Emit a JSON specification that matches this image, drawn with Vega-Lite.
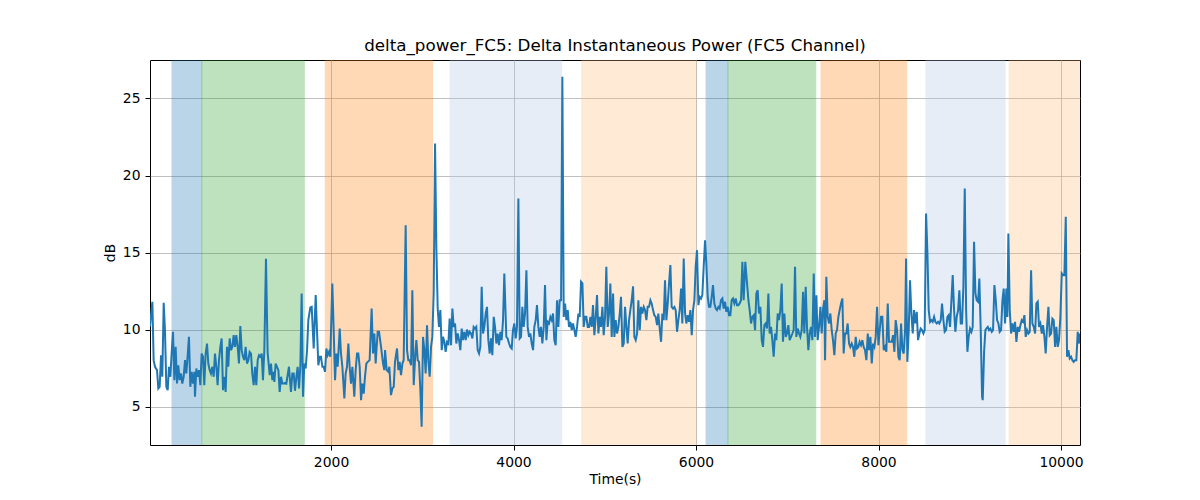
{
"$schema": "https://vega.github.io/schema/vega-lite/v6.json",
"width": 930, "height": 385,
"autosize": {"type": "none"},
"padding": {"left": 150, "top": 60, "right": 120, "bottom": 55},
"background": "white",
"config": {
  "font": "DejaVu Sans",
  "view": {"stroke": "black", "strokeWidth": 1},
  "axis": {"domain": false, "tickColor": "black", "tickSize": 5, "labelPadding": 5, "labelFontSize": 13.9, "labelColor": "black", "titleFontSize": 13.9, "titleFontWeight": "normal", "titleColor": "black", "grid": true, "gridColor": "#b0b0b0", "gridWidth": 0.8}
},
"title": {"text": "delta_power_FC5: Delta Instantaneous Power (FC5 Channel)", "fontSize": 16.7, "fontWeight": "normal", "color": "black", "offset": 8, "baseline": "alphabetic", "dy": 16},
"datasets": {
  "spans": [
    {"start": 257, "end": 584, "stage": "s1"},
    {"start": 584, "end": 1707, "stage": "s2"},
    {"start": 1937, "end": 3112, "stage": "s3"},
    {"start": 3304, "end": 4528, "stage": "s4"},
    {"start": 4747, "end": 6000, "stage": "s5"},
    {"start": 6110, "end": 6350, "stage": "s1"},
    {"start": 6350, "end": 7312, "stage": "s2"},
    {"start": 7370, "end": 8309, "stage": "s3"},
    {"start": 8520, "end": 9387, "stage": "s4"},
    {"start": 9431, "end": 10208, "stage": "s5"}
  ],
  "series": [
{"t":16,"v":10.2},{"t":42,"v":11.8},{"t":56,"v":8.01},{"t":71,"v":7.58},{"t":93,"v":7.36},{"t":107,"v":6.17},{"t":122,"v":6.28},{"t":137,"v":8.33},{"t":151,"v":6.93},{"t":166,"v":11.73},{"t":180,"v":9.96},{"t":195,"v":6.28},{"t":210,"v":6.06},{"t":224,"v":7.58},{"t":239,"v":6.93},{"t":253,"v":8.44},{"t":268,"v":9.85},{"t":283,"v":6.71},{"t":297,"v":8.87},{"t":312,"v":6.49},{"t":326,"v":7.68},{"t":341,"v":6.71},{"t":356,"v":7.14},{"t":370,"v":6.49},{"t":385,"v":6.93},{"t":400,"v":8.01},{"t":414,"v":7.14},{"t":429,"v":8.33},{"t":443,"v":9.52},{"t":458,"v":6.28},{"t":473,"v":7.25},{"t":487,"v":6.49},{"t":502,"v":7.25},{"t":509,"v":5.63},{"t":524,"v":7.47},{"t":538,"v":6.93},{"t":553,"v":7.36},{"t":568,"v":6.39},{"t":582,"v":8.44},{"t":597,"v":8.23},{"t":611,"v":6.39},{"t":626,"v":8.44},{"t":641,"v":9.09},{"t":655,"v":7.79},{"t":670,"v":7.36},{"t":684,"v":7.14},{"t":699,"v":7.58},{"t":714,"v":6.93},{"t":728,"v":8.44},{"t":743,"v":7.58},{"t":757,"v":6.39},{"t":772,"v":8.01},{"t":787,"v":8.87},{"t":801,"v":9.42},{"t":816,"v":6.06},{"t":831,"v":6.93},{"t":845,"v":5.95},{"t":860,"v":8.87},{"t":874,"v":7.58},{"t":889,"v":9.42},{"t":904,"v":8.66},{"t":918,"v":8.87},{"t":933,"v":9.63},{"t":947,"v":8.87},{"t":962,"v":9.63},{"t":977,"v":8.87},{"t":991,"v":7.79},{"t":1006,"v":10.22},{"t":1021,"v":8.66},{"t":1035,"v":8.23},{"t":1050,"v":8.01},{"t":1064,"v":8.87},{"t":1079,"v":7.79},{"t":1094,"v":8.01},{"t":1108,"v":8.55},{"t":1123,"v":8.44},{"t":1137,"v":7.14},{"t":1152,"v":6.39},{"t":1167,"v":7.58},{"t":1181,"v":6.39},{"t":1196,"v":8.01},{"t":1210,"v":8.33},{"t":1225,"v":8.23},{"t":1240,"v":8.44},{"t":1254,"v":6.71},{"t":1269,"v":8.66},{"t":1287,"v":14.6},{"t":1305,"v":8.5},
{"t":1328,"v":7.03},{"t":1342,"v":7.79},{"t":1357,"v":6.71},{"t":1371,"v":7.25},{"t":1379,"v":6.6},{"t":1393,"v":7.79},{"t":1408,"v":7.58},{"t":1423,"v":7.36},{"t":1437,"v":5.95},{"t":1452,"v":6.93},{"t":1466,"v":6.49},{"t":1481,"v":6.49},{"t":1496,"v":6.54},{"t":1510,"v":6.49},{"t":1539,"v":7.58},{"t":1547,"v":6.93},{"t":1561,"v":5.95},{"t":1576,"v":7.14},{"t":1591,"v":7.14},{"t":1605,"v":6.02},{"t":1620,"v":6.93},{"t":1634,"v":7.58},{"t":1649,"v":6.17},{"t":1664,"v":7.68},{"t":1678,"v":12.34},{"t":1693,"v":5.63},{"t":1707,"v":7.79},{"t":1722,"v":7.47},{"t":1737,"v":8.66},{"t":1751,"v":10.61},{"t":1773,"v":11.43},{"t":1788,"v":11.47},{"t":1810,"v":8.77},{"t":1832,"v":12.23},{"t":1846,"v":9.96},{"t":1861,"v":7.68},{"t":1876,"v":8.23},{"t":1890,"v":8.23},{"t":1905,"v":7.58},{"t":1919,"v":7.58},{"t":1934,"v":7.25},{"t":1949,"v":8.77},{"t":1963,"v":8.33},{"t":1978,"v":8.55},{"t":1992,"v":8.23},{"t":2014,"v":12.99},{"t":2029,"v":9.96},{"t":2044,"v":6.71},{"t":2058,"v":8.44},{"t":2073,"v":7.58},{"t":2095,"v":10.06},{"t":2109,"v":8.44},{"t":2124,"v":7.58},{"t":2146,"v":5.52},{"t":2160,"v":7.14},{"t":2175,"v":7.58},{"t":2190,"v":9.09},{"t":2204,"v":7.58},{"t":2219,"v":6.49},{"t":2234,"v":7.58},{"t":2255,"v":5.63},{"t":2270,"v":7.36},{"t":2285,"v":8.44},{"t":2299,"v":8.44},{"t":2314,"v":7.58},{"t":2329,"v":5.41},{"t":2343,"v":6.49},{"t":2358,"v":5.84},{"t":2372,"v":6.93},{"t":2387,"v":7.79},{"t":2402,"v":7.9},{"t":2423,"v":8.01},{"t":2445,"v":11.36},{"t":2460,"v":8.44},{"t":2475,"v":9.74},{"t":2489,"v":7.79},{"t":2511,"v":9.85},{"t":2526,"v":9.85},{"t":2548,"v":8.87},{"t":2570,"v":7.79},{"t":2584,"v":7.36},
{"t":2592,"v":8.66},{"t":2610,"v":7.36},{"t":2628,"v":7.25},{"t":2639,"v":7.58},{"t":2657,"v":5.74},{"t":2672,"v":6.17},{"t":2687,"v":6.28},{"t":2701,"v":7.9},{"t":2723,"v":8.77},{"t":2738,"v":7.36},{"t":2752,"v":7.9},{"t":2767,"v":7.03},{"t":2782,"v":7.79},{"t":2796,"v":8.01},{"t":2818,"v":16.77},{"t":2833,"v":8.66},{"t":2847,"v":8.01},{"t":2862,"v":8.01},{"t":2877,"v":7.68},{"t":2891,"v":12.55},{"t":2906,"v":6.39},{"t":2920,"v":8.01},{"t":2935,"v":9.31},{"t":2950,"v":8.01},{"t":2964,"v":7.9},{"t":2979,"v":6.06},{"t":2993,"v":3.68},{"t":3008,"v":9.52},{"t":3023,"v":8.66},{"t":3037,"v":7.14},{"t":3052,"v":10.28},{"t":3066,"v":8.01},{"t":3081,"v":6.93},{"t":3096,"v":8.87},{"t":3110,"v":9.52},{"t":3125,"v":12.34},{"t":3140,"v":22.08},{"t":3154,"v":15.37},{"t":3169,"v":11.36},{"t":3183,"v":10.17},{"t":3198,"v":11.26},{"t":3213,"v":8.66},{"t":3227,"v":9.52},{"t":3242,"v":9.2},{"t":3256,"v":8.55},{"t":3271,"v":9.2},{"t":3286,"v":9.09},{"t":3300,"v":10.71},{"t":3315,"v":8.98},{"t":3330,"v":11.36},{"t":3344,"v":10.17},{"t":3359,"v":10.39},{"t":3373,"v":9.09},{"t":3388,"v":9.74},{"t":3403,"v":9.31},{"t":3417,"v":8.66},{"t":3432,"v":10.06},{"t":3446,"v":9.31},{"t":3461,"v":9.85},{"t":3476,"v":9.31},{"t":3490,"v":10.0},{"t":3505,"v":9.63},{"t":3519,"v":9.85},{"t":3534,"v":9.74},{"t":3549,"v":9.42},{"t":3563,"v":10.17},{"t":3578,"v":10.06},{"t":3592,"v":10.17},{"t":3607,"v":8.66},{"t":3622,"v":8.44},{"t":3636,"v":8.87},{"t":3651,"v":12.77},{"t":3666,"v":9.74},{"t":3680,"v":10.17},{"t":3695,"v":11.04},{"t":3709,"v":11.47},{"t":3724,"v":9.31},{"t":3739,"v":8.44},{"t":3753,"v":9.42},{"t":3768,"v":8.33},{"t":3783,"v":10.82},{"t":3797,"v":10.17},{"t":3812,"v":9.09},{"t":3826,"v":9.74},{"t":3841,"v":8.98},{"t":3856,"v":9.85},{"t":3870,"v":9.31},{"t":3885,"v":10.61},{"t":3899,"v":13.64},
{"t":3921,"v":9.52},{"t":3936,"v":9.42},{"t":3951,"v":9.09},{"t":3965,"v":8.87},{"t":3980,"v":8.77},{"t":3994,"v":9.96},{"t":4009,"v":10.39},{"t":4024,"v":9.42},{"t":4038,"v":10.17},{"t":4053,"v":18.51},{"t":4068,"v":9.42},{"t":4082,"v":9.52},{"t":4097,"v":11.47},{"t":4111,"v":10.17},{"t":4126,"v":11.04},{"t":4141,"v":13.85},{"t":4155,"v":10.17},{"t":4170,"v":9.52},{"t":4184,"v":9.74},{"t":4199,"v":9.09},{"t":4214,"v":8.66},{"t":4228,"v":10.17},{"t":4243,"v":10.61},{"t":4257,"v":11.58},{"t":4272,"v":10.17},{"t":4287,"v":9.52},{"t":4301,"v":10.17},{"t":4316,"v":9.09},{"t":4331,"v":10.17},{"t":4345,"v":12.88},{"t":4360,"v":9.31},{"t":4374,"v":10.5},{"t":4389,"v":10.39},{"t":4404,"v":10.82},{"t":4418,"v":10.61},{"t":4433,"v":11.04},{"t":4447,"v":9.31},{"t":4462,"v":8.98},{"t":4477,"v":11.9},{"t":4491,"v":10.17},{"t":4506,"v":11.9},{"t":4521,"v":11.9},{"t":4535,"v":26.41},{"t":4550,"v":10.82},{"t":4565,"v":11.69},{"t":4579,"v":10.61},{"t":4594,"v":11.26},{"t":4608,"v":10.17},{"t":4623,"v":10.5},{"t":4638,"v":9.96},{"t":4652,"v":10.39},{"t":4667,"v":9.96},{"t":4681,"v":9.52},{"t":4696,"v":10.17},{"t":4711,"v":11.04},{"t":4725,"v":10.82},{"t":4740,"v":13.1},{"t":4755,"v":12.99},{"t":4769,"v":10.17},{"t":4784,"v":10.82},{"t":4798,"v":10.82},{"t":4813,"v":10.17},{"t":4828,"v":10.17},{"t":4842,"v":10.82},{"t":4857,"v":10.17},{"t":4871,"v":11.58},{"t":4886,"v":9.63},{"t":4901,"v":10.82},{"t":4915,"v":12.23},{"t":4930,"v":9.74},{"t":4945,"v":10.82},{"t":4959,"v":10.17},{"t":4974,"v":11.47},{"t":4988,"v":9.63},{"t":5003,"v":10.82},{"t":5017,"v":14.07},{"t":5032,"v":10.17},{"t":5047,"v":11.04},{"t":5061,"v":12.99},{"t":5076,"v":9.52},{"t":5091,"v":12.34},{"t":5105,"v":9.52},{"t":5120,"v":10.61},{"t":5134,"v":9.74},{"t":5149,"v":10.17},{"t":5164,"v":11.04},{"t":5178,"v":12.12},{"t":5193,"v":8.87},{"t":5208,"v":9.09},
{"t":5222,"v":11.47},{"t":5237,"v":10.17},{"t":5251,"v":9.09},{"t":5266,"v":10.61},{"t":5280,"v":11.26},{"t":5295,"v":11.9},{"t":5310,"v":12.81},{"t":5324,"v":9.52},{"t":5339,"v":9.31},{"t":5354,"v":9.74},{"t":5368,"v":11.9},{"t":5383,"v":9.96},{"t":5397,"v":11.47},{"t":5412,"v":11.04},{"t":5427,"v":11.47},{"t":5441,"v":11.26},{"t":5456,"v":10.61},{"t":5470,"v":11.47},{"t":5485,"v":11.47},{"t":5500,"v":11.9},{"t":5514,"v":11.69},{"t":5529,"v":11.26},{"t":5543,"v":10.93},{"t":5558,"v":10.82},{"t":5573,"v":10.28},{"t":5587,"v":11.04},{"t":5602,"v":10.06},{"t":5617,"v":9.2},{"t":5631,"v":11.04},{"t":5646,"v":10.61},{"t":5660,"v":13.2},{"t":5675,"v":10.61},{"t":5690,"v":11.69},{"t":5704,"v":12.99},{"t":5719,"v":14.18},{"t":5733,"v":11.47},{"t":5748,"v":11.36},{"t":5763,"v":11.47},{"t":5777,"v":11.26},{"t":5792,"v":9.85},{"t":5806,"v":10.61},{"t":5821,"v":11.26},{"t":5836,"v":12.66},{"t":5850,"v":10.39},{"t":5865,"v":14.61},{"t":5880,"v":11.04},{"t":5894,"v":10.39},{"t":5909,"v":10.93},{"t":5923,"v":10.5},{"t":5938,"v":11.26},{"t":5953,"v":9.63},{"t":5967,"v":11.26},{"t":5982,"v":11.9},{"t":5996,"v":14.07},{"t":6011,"v":15.15},{"t":6026,"v":11.58},{"t":6040,"v":12.12},{"t":6055,"v":12.01},{"t":6069,"v":12.23},{"t":6084,"v":14.07},{"t":6099,"v":15.8},{"t":6113,"v":14.29},{"t":6128,"v":12.12},{"t":6142,"v":11.47},{"t":6157,"v":11.47},{"t":6172,"v":12.12},{"t":6186,"v":12.88},{"t":6201,"v":11.69},{"t":6216,"v":11.36},{"t":6230,"v":11.26},{"t":6245,"v":11.47},{"t":6259,"v":11.36},{"t":6274,"v":11.9},{"t":6289,"v":12.01},{"t":6303,"v":11.36},{"t":6318,"v":11.8},{"t":6332,"v":11.15},{"t":6347,"v":11.47},{"t":6362,"v":10.93},{"t":6376,"v":10.93},{"t":6391,"v":11.9},{"t":6405,"v":12.01},{"t":6420,"v":11.69},{"t":6435,"v":12.01},{"t":6449,"v":11.58},{"t":6464,"v":11.58},{"t":6478,"v":11.69},{"t":6493,"v":11.9},{"t":6508,"v":14.39},{"t":6522,"v":11.9},{"t":6540,"v":14.39},
{"t":6574,"v":11.9},{"t":6588,"v":11.26},{"t":6603,"v":10.39},{"t":6617,"v":10.82},{"t":6632,"v":10.93},{"t":6647,"v":9.96},{"t":6661,"v":12.34},{"t":6676,"v":12.55},{"t":6690,"v":11.04},{"t":6705,"v":11.47},{"t":6720,"v":9.31},{"t":6734,"v":8.87},{"t":6749,"v":10.28},{"t":6763,"v":10.39},{"t":6778,"v":10.06},{"t":6793,"v":12.34},{"t":6807,"v":9.74},{"t":6822,"v":10.17},{"t":6836,"v":9.31},{"t":6851,"v":8.23},{"t":6866,"v":9.74},{"t":6880,"v":9.31},{"t":6895,"v":11.04},{"t":6909,"v":10.61},{"t":6924,"v":11.26},{"t":6939,"v":12.99},{"t":6953,"v":9.2},{"t":6968,"v":11.04},{"t":6983,"v":9.52},{"t":6997,"v":9.74},{"t":7012,"v":10.28},{"t":7026,"v":9.31},{"t":7041,"v":9.52},{"t":7056,"v":9.74},{"t":7070,"v":9.96},{"t":7085,"v":14.07},{"t":7099,"v":9.52},{"t":7114,"v":10.06},{"t":7129,"v":9.74},{"t":7143,"v":9.52},{"t":7158,"v":9.96},{"t":7173,"v":12.45},{"t":7187,"v":9.74},{"t":7202,"v":12.77},{"t":7216,"v":10.17},{"t":7231,"v":8.66},{"t":7246,"v":9.74},{"t":7260,"v":10.17},{"t":7275,"v":9.31},{"t":7290,"v":13.64},{"t":7304,"v":9.52},{"t":7319,"v":12.23},{"t":7333,"v":9.31},{"t":7348,"v":10.17},{"t":7363,"v":11.47},{"t":7377,"v":9.74},{"t":7392,"v":11.36},{"t":7407,"v":11.9},{"t":7414,"v":8.01},{"t":7428,"v":13.42},{"t":7443,"v":10.82},{"t":7458,"v":10.39},{"t":7472,"v":11.04},{"t":7487,"v":9.96},{"t":7501,"v":9.31},{"t":7516,"v":8.33},{"t":7531,"v":9.74},{"t":7545,"v":9.96},{"t":7560,"v":10.82},{"t":7574,"v":11.26},{"t":7589,"v":11.69},{"t":7604,"v":12.01},{"t":7618,"v":8.44},{"t":7633,"v":9.74},{"t":7647,"v":9.74},{"t":7662,"v":10.39},{"t":7677,"v":9.09},{"t":7691,"v":8.87},{"t":7706,"v":9.09},{"t":7720,"v":8.87},{"t":7735,"v":8.23},{"t":7750,"v":9.52},{"t":7764,"v":8.77},{"t":7779,"v":8.87},{"t":7793,"v":9.2},{"t":7808,"v":8.98},{"t":7823,"v":9.31},{"t":7837,"v":8.87},
{"t":7852,"v":8.66},{"t":7867,"v":8.01},{"t":7882,"v":9.74},{"t":7896,"v":8.66},{"t":7911,"v":9.52},{"t":7926,"v":7.79},{"t":7940,"v":9.09},{"t":7955,"v":8.87},{"t":7969,"v":9.52},{"t":7984,"v":11.47},{"t":7999,"v":8.98},{"t":8013,"v":9.96},{"t":8028,"v":10.82},{"t":8042,"v":10.82},{"t":8057,"v":8.66},{"t":8072,"v":8.87},{"t":8086,"v":8.55},{"t":8101,"v":11.69},{"t":8115,"v":9.2},{"t":8130,"v":9.2},{"t":8145,"v":9.2},{"t":8159,"v":9.63},{"t":8174,"v":8.55},{"t":8188,"v":10.61},{"t":8203,"v":9.96},{"t":8218,"v":8.23},{"t":8232,"v":8.01},{"t":8247,"v":10.39},{"t":8262,"v":8.66},{"t":8276,"v":8.44},{"t":8291,"v":9.96},{"t":8302,"v":14.61},{"t":8316,"v":7.9},{"t":8331,"v":9.96},{"t":8345,"v":13.2},{"t":8360,"v":11.04},{"t":8375,"v":9.74},{"t":8389,"v":11.26},{"t":8404,"v":10.39},{"t":8419,"v":11.15},{"t":8433,"v":9.31},{"t":8448,"v":9.74},{"t":8462,"v":10.06},{"t":8477,"v":9.96},{"t":8492,"v":9.74},{"t":8506,"v":9.96},{"t":8521,"v":17.53},{"t":8536,"v":14.94},{"t":8550,"v":11.26},{"t":8565,"v":10.5},{"t":8579,"v":10.61},{"t":8594,"v":10.5},{"t":8609,"v":10.82},{"t":8623,"v":10.5},{"t":8638,"v":10.39},{"t":8652,"v":10.5},{"t":8667,"v":10.39},{"t":8682,"v":10.61},{"t":8696,"v":11.69},{"t":8711,"v":10.61},{"t":8725,"v":9.85},{"t":8740,"v":9.96},{"t":8755,"v":10.82},{"t":8769,"v":10.93},{"t":8784,"v":10.17},{"t":8799,"v":11.9},{"t":8813,"v":13.53},{"t":8828,"v":11.26},{"t":8842,"v":9.85},{"t":8857,"v":10.82},{"t":8872,"v":11.26},{"t":8886,"v":12.55},{"t":8901,"v":10.39},{"t":8915,"v":10.39},{"t":8930,"v":12.77},{"t":8945,"v":19.16},{"t":8960,"v":11.26},{"t":8974,"v":8.55},{"t":8988,"v":9.52},{"t":9003,"v":10.06},{"t":9018,"v":9.85},{"t":9032,"v":10.17},{"t":9047,"v":15.69},{"t":9062,"v":12.34},{"t":9076,"v":11.9},{"t":9091,"v":11.8},{"t":9105,"v":13.31},{"t":9120,"v":9.96},{"t":9135,"v":5.63},{"t":9142,"v":5.41},{"t":9157,"v":8.55},{"t":9171,"v":9.96},
{"t":9182,"v":10.06},{"t":9197,"v":10.17},{"t":9211,"v":9.96},{"t":9226,"v":10.06},{"t":9241,"v":9.85},{"t":9255,"v":9.96},{"t":9270,"v":12.88},{"t":9285,"v":11.9},{"t":9299,"v":10.61},{"t":9314,"v":10.39},{"t":9328,"v":9.85},{"t":9343,"v":9.96},{"t":9358,"v":11.9},{"t":9372,"v":12.66},{"t":9387,"v":10.39},{"t":9401,"v":12.66},{"t":9412,"v":10.82},{"t":9423,"v":16.23},{"t":9438,"v":11.26},{"t":9453,"v":9.74},{"t":9467,"v":10.39},{"t":9482,"v":9.85},{"t":9496,"v":10.5},{"t":9511,"v":9.2},{"t":9526,"v":10.17},{"t":9540,"v":9.85},{"t":9555,"v":10.28},{"t":9569,"v":10.61},{"t":9584,"v":10.5},{"t":9599,"v":10.93},{"t":9613,"v":9.52},{"t":9628,"v":9.96},{"t":9643,"v":9.74},{"t":9657,"v":9.85},{"t":9672,"v":13.85},{"t":9686,"v":10.39},{"t":9701,"v":10.17},{"t":9716,"v":9.74},{"t":9730,"v":11.69},{"t":9745,"v":11.8},{"t":9759,"v":10.17},{"t":9774,"v":10.39},{"t":9789,"v":9.74},{"t":9803,"v":10.28},{"t":9818,"v":9.52},{"t":9832,"v":8.44},{"t":9847,"v":10.17},{"t":9862,"v":11.47},{"t":9876,"v":9.63},{"t":9891,"v":9.74},{"t":9905,"v":10.71},{"t":9920,"v":10.61},{"t":9935,"v":8.87},{"t":9949,"v":10.17},{"t":9964,"v":8.87},{"t":9978,"v":9.31},{"t":9993,"v":10.82},{"t":10008,"v":13.64},{"t":10022,"v":13.53},{"t":10037,"v":13.53},{"t":10052,"v":17.32},{"t":10066,"v":8.23},{"t":10081,"v":8.66},{"t":10095,"v":8.12},{"t":10110,"v":8.23},{"t":10124,"v":8.01},{"t":10139,"v":7.9},{"t":10154,"v":8.01},{"t":10168,"v":8.01},{"t":10183,"v":9.85},{"t":10198,"v":9.09},{"t":10208,"v":9.74}
  ]
},
"layer": [
  {
    "data": {"name": "spans"},
    "mark": {"type": "rect", "opacity": 0.3, "strokeWidth": 1, "clip": true},
    "encoding": {
      "x": {"field": "start", "type": "quantitative", "scale": {"domain": [16, 10208], "nice": false, "zero": false},
            "axis": {"title": "Time(s)", "values": [2000, 4000, 6000, 8000, 10000], "format": "d", "titlePadding": 4}},
      "x2": {"field": "end"},
      "color": {"field": "stage", "type": "nominal", "scale": {"domain": ["s1", "s2", "s3", "s4", "s5"], "range": ["#1f77b4", "#2ca02c", "#ff7f0e", "#aec7e8", "#ffbb78"]}, "legend": null},
      "stroke": {"field": "stage", "type": "nominal", "scale": {"domain": ["s1", "s2", "s3", "s4", "s5"], "range": ["#1f77b4", "#2ca02c", "#ff7f0e", "#aec7e8", "#ffbb78"]}, "legend": null}
    }
  },
  {
    "data": {"name": "series"},
    "mark": {"type": "line", "color": "#1f77b4", "strokeWidth": 2, "clip": true},
    "encoding": {
      "x": {"field": "t", "type": "quantitative"},
      "y": {"field": "v", "type": "quantitative", "scale": {"domain": [2.5, 27.5], "nice": false, "zero": false},
            "axis": {"title": "dB", "values": [5, 10, 15, 20, 25], "titlePadding": 5}}
    }
  }
]
}
